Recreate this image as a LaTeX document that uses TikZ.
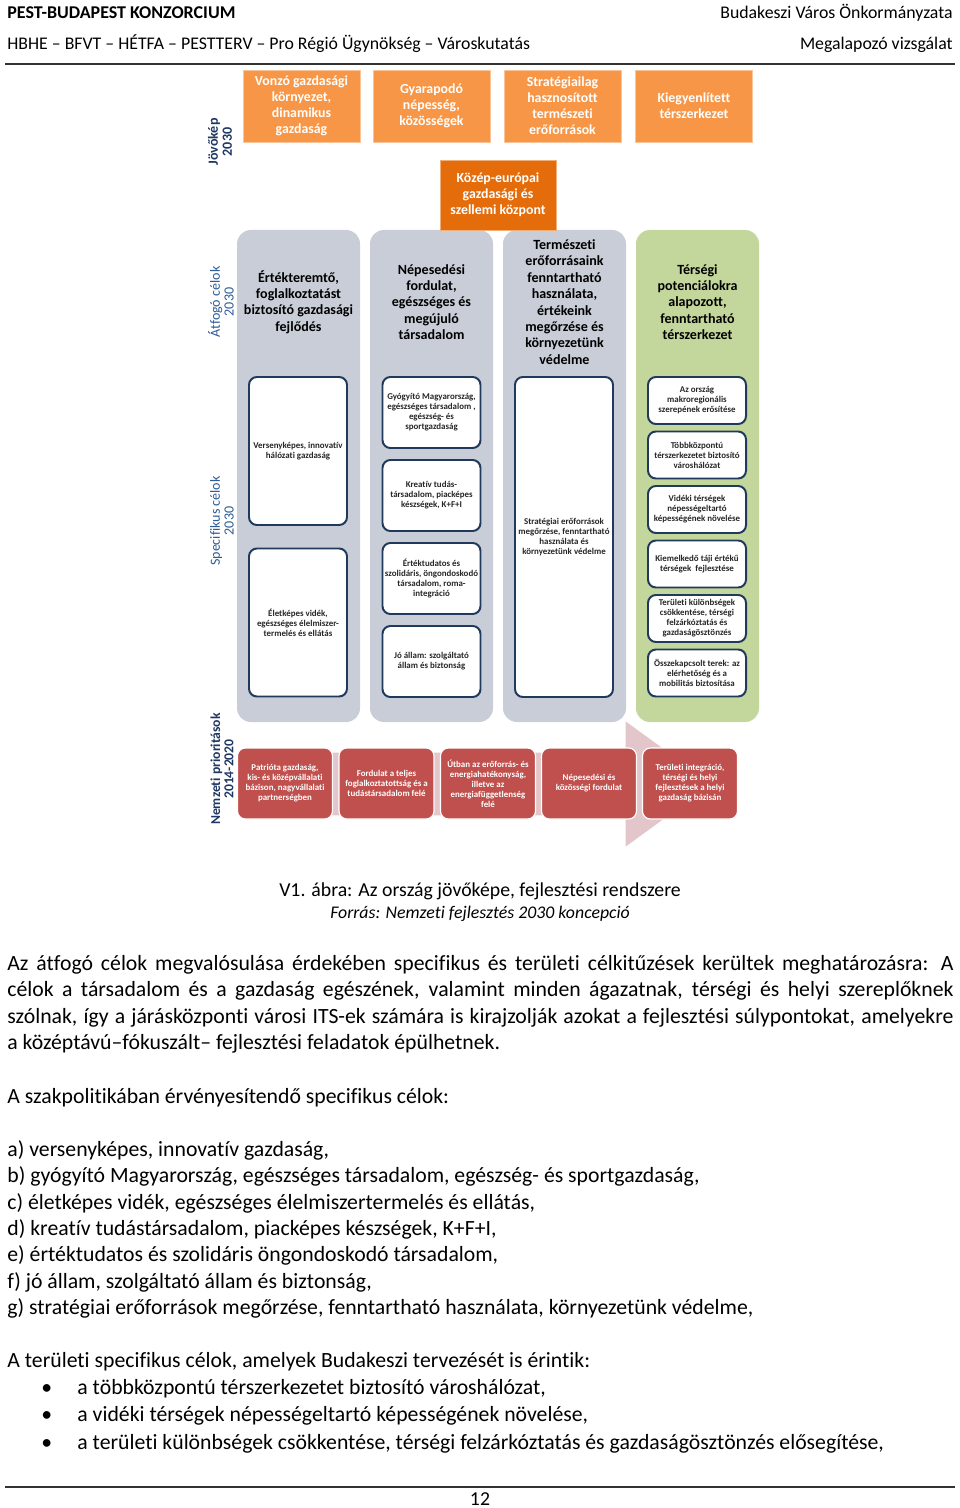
\documentclass[tikz,border=0pt]{standalone}
\usepackage{fontspec}
\setmainfont{Carlito}[Ligatures=NoCommon]
\usetikzlibrary{positioning,shapes.misc}

\definecolor{visorange}{HTML}{F79646}
\definecolor{huborange}{HTML}{E46C0A}
\definecolor{pillargray}{HTML}{C8CDD7}
\definecolor{pillargreen}{HTML}{C3D69B}
\definecolor{goalnavy}{HTML}{1F3A5C}
\definecolor{prired}{HTML}{C0504D}
\definecolor{arrowpink}{HTML}{E2C6CA}
\definecolor{labnavy}{HTML}{1F3864}
\definecolor{labblue}{HTML}{2E5C96}

% one pixel of the page
\def\pu{0.506pt}

\begin{document}
\begin{tikzpicture}[
  x=0.506pt, y=-0.506pt,
  vision/.style={
    rectangle, fill=visorange, draw=visorange!55!white, line width=0.4pt,
    minimum width=117*\pu, minimum height=72*\pu, inner sep=0,
    align=center, text=white, font=\fontsize{7.0}{8.1}\selectfont\bfseries
  },
  hub/.style={vision, fill=huborange, draw=huborange!55!white,
    minimum width=116*\pu, minimum height=70*\pu},
  pillar/.style={
    rectangle, rounded corners=7pt, fill=pillargray, draw=none,
    minimum width=123*\pu, minimum height=492*\pu, inner sep=0
  },
  pilltxt/.style={align=center, inner sep=0,
    font=\fontsize{7.1}{8.3}\selectfont\bfseries},
  goal/.style={
    rectangle, rounded corners=4pt, fill=white, draw=goalnavy, line width=1pt,
    minimum width=98*\pu, inner sep=0, align=center, text=black!85,
    font=\fontsize{4.5}{5.1}\selectfont\bfseries
  },
  prio/.style={
    rectangle, rounded corners=4pt, fill=prired, draw=white, line width=0.6pt,
    minimum width=95*\pu, minimum height=71*\pu, inner sep=0,
    align=center, text=white, font=\fontsize{4.5}{5.1}\selectfont\bfseries
  },
  side/.style={rotate=90, align=center, inner sep=0,
    font=\fontsize{7.1}{7.0}\selectfont},
  body/.style={anchor=base west, inner sep=0, font=\fontsize{11}{13.4}\selectfont},
  head/.style={inner sep=0, font=\fontsize{9}{11}\selectfont}
]
\useasboundingbox[fill=white] (0,0) rectangle (960,1508);

% -- Fejléc --
\node[head, anchor=base west, font=\fontsize{9.1}{11}\selectfont\bfseries] (hdrl) at (7,19) {PEST-BUDAPEST KONZORCIUM};
\node[head, anchor=base east] (hdrr) at (953,19) {Budakeszi Város Önkormányzata};
\node[head, anchor=base west] (hdrl2) at (7,50) {HBHE – BFVT – HÉTFA – PESTTERV – Pro Régió Ügynökség – Városkutatás};
\node[head, anchor=base east] (hdrr2) at (953,50) {Megalapozó vizsgálat};
\draw[line width=1pt, black!80] (5,64) -- (955,64);

% -- Jövőkép --
\node[vision] (v1) at (301.5,106) {Vonzó gazdasági\\környezet,\\dinamikus\\gazdaság};
\node[vision] (v2) at (431.5,106) {Gyarapodó\\népesség,\\közösségek};
\node[vision] (v3) at (562.5,106) {Stratégiailag\\hasznosított\\természeti\\erőforrások};
\node[vision] (v4) at (694,106) {Kiegyenlített\\térszerkezet};

% -- Átfogó célok (oszlopok) --
\node[pillar] (col1) at (298.5,476) {};
\node[pillar] (col2) at (431.5,476) {};
\node[pillar] (col3) at (564.5,476) {};
\node[pillar, fill=pillargreen] (col4) at (697.5,476) {};

\node[hub] (hub) at (498,195) {Közép-európai\\gazdasági és\\szellemi központ};

\node[pilltxt] (h1) at (298.5,302) {Értékteremtő,\\foglalkoztatást\\biztosító gazdasági\\fejlődés};
\node[pilltxt] (h2) at (431.5,302) {Népesedési\\fordulat,\\egészséges és\\megújuló\\társadalom};
\node[pilltxt] (h3) at (564.5,302) {Természeti\\erőforrásaink\\fenntartható\\használata,\\értékeink\\megőrzése és\\környezetünk\\védelme};
\node[pilltxt] (h4) at (697.5,302) {Térségi\\potenciálokra\\alapozott,\\fenntartható\\térszerkezet};

% -- Specifikus célok --
\node[goal, minimum height=148*\pu] (g11) at (298,451) {Versenyképes, innovatív\\hálózati gazdaság};
\node[goal, minimum height=148*\pu] (g12) at (298,622.5) {Életképes vidék,\\egészséges élelmiszer-\\termelés és ellátás};

\node[goal, minimum height=71*\pu] (g21) at (431.5,412.5) {Gyógyító Magyarország,\\egészséges társadalom ,\\egészség- és\\sportgazdaság};
\node[goal, minimum height=71*\pu] (g22) at (431.5,495.5) {Kreatív tudás-\\társadalom, piacképes\\készségek, K+F+I};
\node[goal, minimum height=71*\pu] (g23) at (431.5,578.5) {Értéktudatos és\\szolidáris, öngondoskodó\\társadalom, roma-\\integráció};
\node[goal, minimum height=71*\pu] (g24) at (431.5,661.5) {Jó állam: szolgáltató\\állam és biztonság};

\node[goal, minimum height=320*\pu] (g31) at (564,537) {Stratégiai erőforrások\\megőrzése, fenntartható\\használata és\\környezetünk védelme};

\node[goal, minimum height=47*\pu] (g41) at (697,400.5) {Az ország\\makroregionális\\szerepének erősítése};
\node[goal, minimum height=47*\pu] (g42) at (697,455) {Többközpontú\\térszerkezetet biztosító\\városhálózat};
\node[goal, minimum height=47*\pu] (g43) at (697,509.5) {Vidéki térségek\\népességeltartó\\képességének növelése};
\node[goal, minimum height=47*\pu] (g44) at (697,564) {Kiemelkedő táji értékű\\térségek\ \ fejlesztése};
\node[goal, minimum height=47*\pu] (g45) at (697,618.5) {Területi különbségek\\csökkentése, térségi\\felzárkóztatás és\\gazdaságösztönzés};
\node[goal, minimum height=47*\pu] (g46) at (697,673) {Összekapcsolt terek: az\\elérhetőség és a\\mobilitás biztosítása};

% -- Nemzeti prioritások --
\filldraw[fill=arrowpink, draw=white, line width=0.6pt]
  (238,752) -- (625,752) -- (625,720) -- (713,784) -- (625,848) -- (625,816) -- (238,816) -- cycle;
\node[prio] (p1) at (285,783.5) {Patrióta gazdaság,\\kis- és középvállalati\\bázison, nagyvállalati\\partnerségben};
\node[prio] (p2) at (386.5,783.5) {Fordulat a teljes\\foglalkoztatottság és a\\tudástársadalom felé};
\node[prio] (p3) at (488,783.5) {Útban az erőforrás- és\\energiahatékonyság,\\illetve az\\energiafüggetlenség\\felé};
\node[prio] (p4) at (589,783.5) {Népesedési és\\közösségi fordulat};
\node[prio] (p5) at (690,783.5) {Területi integráció,\\térségi és helyi\\fejlesztések a helyi\\gazdaság bázisán};

% -- Bal oldali feliratok --
\node[side, text=labnavy, font=\fontsize{7.1}{7.0}\selectfont\bfseries] (sv) at (220,142) {Jövőkép\\2030};
\node[side, text=labblue] (sa) at (221,302) {Átfogó célok\\2030};
\node[side, text=labblue] (ss) at (222,521) {Specifikus célok\\2030};
\node[side, text=labnavy, font=\fontsize{6.9}{6.8}\selectfont\bfseries] (sn) at (222,769) {Nemzeti prioritások\\2014-2020};

% -- Ábrafelirat --
\node[anchor=base, inner sep=0, font=\fontsize{10}{12}\selectfont] (cap) at (480,896) {V1. ábra: Az ország jövőképe, fejlesztési rendszere};
\node[anchor=base, inner sep=0, font=\fontsize{9}{11}\selectfont\itshape] (src) at (480,918) {Forrás: Nemzeti fejlesztés 2030 koncepció};

% -- Szöveg --
\node[body] (t1) at (7,970) {\makebox[478.7pt][s]{Az átfogó célok megvalósulása érdekében specifikus és területi célkitűzések kerültek meghatározásra: A}};
\node[body] (t2) at (7,996.5) {\makebox[478.7pt][s]{célok a társadalom és a gazdaság egészének, valamint minden ágazatnak, térségi és helyi szereplőknek}};
\node[body] (t3) at (7,1023) {\makebox[478.7pt][s]{szólnak, így a járásközponti városi ITS-ek számára is kirajzolják azokat a fejlesztési súlypontokat, amelyekre}};
\node[body] (t4) at (7,1049.5) {a középtávú–fókuszált– fejlesztési feladatok épülhetnek.};

\node[body] (t5) at (7,1103) {A szakpolitikában érvényesítendő specifikus célok:};

\node[body] (la) at (7,1156) {a) versenyképes, innovatív gazdaság,};
\node[body] (lb) at (7,1182) {b) gyógyító Magyarország, egészséges társadalom, egészség- és sportgazdaság,};
\node[body] (lc) at (7,1209) {c) életképes vidék, egészséges élelmiszertermelés és ellátás,};
\node[body] (ld) at (7,1235) {d) kreatív tudástársadalom, piacképes készségek, K+F+I,};
\node[body] (le) at (7,1261) {e) értéktudatos és szolidáris öngondoskodó társadalom,};
\node[body] (lf) at (7,1288) {f) jó állam, szolgáltató állam és biztonság,};
\node[body] (lg) at (7,1314) {g) stratégiai erőforrások megőrzése, fenntartható használata, környezetünk védelme,};

\node[body] (t6) at (7,1367) {A területi specifikus célok, amelyek Budakeszi tervezését is érintik:};

\node[body] (b1) at (41,1394) {•};
\node[body] (b2) at (41,1421) {•};
\node[body] (b3) at (41,1449) {•};
\node[body] (m1) at (77,1394) {a többközpontú térszerkezetet biztosító városhálózat,};
\node[body] (m2) at (77,1421) {a vidéki térségek népességeltartó képességének növelése,};
\node[body] (m3) at (77,1449) {a területi különbségek csökkentése, térségi felzárkóztatás és gazdaságösztönzés elősegítése,};

% -- Lábléc --
\draw[line width=0.6pt, black!80] (5,1487) -- (955,1487);
\node[anchor=base, inner sep=0, font=\fontsize{10}{12}\selectfont] (pg) at (480,1505) {12};

\end{tikzpicture}
\end{document}
